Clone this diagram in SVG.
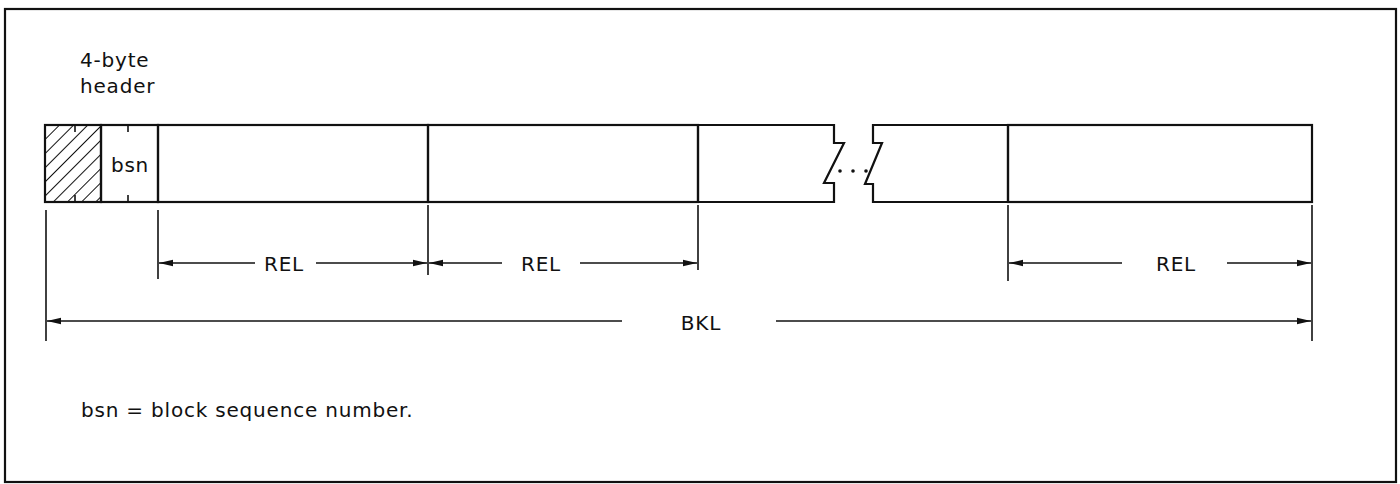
<svg xmlns="http://www.w3.org/2000/svg" width="1400" height="484" viewBox="0 0 1400 484">
<defs>
<style>
.ln{stroke:#111;stroke-width:2.2;fill:none}
.thin{stroke:#111;stroke-width:1.6;fill:none}
.t{font-family:"DejaVu Sans","Liberation Sans",sans-serif;font-size:20px;fill:#111;letter-spacing:0.8px}
.tc{text-anchor:middle}
</style>
<marker id="ah" viewBox="0 0 14 8" refX="14" refY="4" markerWidth="14" markerHeight="8" markerUnits="userSpaceOnUse" orient="auto-start-reverse">
<path d="M0,0.8 L14,4 L0,7.2 Z" fill="#111"/>
</marker>
<pattern id="hatch" patternUnits="userSpaceOnUse" width="10" height="10" patternTransform="rotate(45)">
<line x1="0" y1="0" x2="0" y2="10" stroke="#111" stroke-width="2"/>
</pattern>
</defs>
<rect x="0" y="0" width="1400" height="484" fill="#fff"/>
<rect id="frame" x="5" y="9" width="1391" height="473" class="ln"/>
<g id="header-label">
<text class="t" x="80" y="67">4-byte</text>
<text class="t" x="80" y="93">header</text>
</g>
<g id="header">
<rect x="45" y="125" width="56" height="77" fill="url(#hatch)"/>
<rect x="45" y="125" width="56" height="77" class="ln"/>
<line x1="75" y1="125" x2="75" y2="132" class="thin"/>
<line x1="75" y1="195" x2="75" y2="202" class="thin"/>
</g>
<g id="bsn">
<rect x="101" y="125" width="57" height="77" class="ln"/>
<line x1="128" y1="125" x2="128" y2="132" class="thin"/>
<line x1="128" y1="195" x2="128" y2="202" class="thin"/>
<text class="t tc" x="130" y="172">bsn</text>
</g>
<g id="record1"><rect x="158" y="125" width="270" height="77" class="ln"/></g>
<g id="record2"><rect x="428" y="125" width="270" height="77" class="ln"/></g>
<g id="record3"><path d="M698,125 H834 V143 H844 L824,183 H834 V202 H698 Z" class="ln"/></g>
<g id="gap">
<circle cx="840" cy="171" r="1.8" fill="#111"/>
<circle cx="853" cy="171" r="1.8" fill="#111"/>
<circle cx="866" cy="171" r="1.8" fill="#111"/>
</g>
<g id="record4"><path d="M1008,125 H873 V143 H882 L865,184 H873 V202 H1008 Z" class="ln"/></g>
<g id="record5"><rect x="1008" y="125" width="304" height="77" class="ln"/></g>
<g id="connectors">
<line x1="46" y1="210" x2="46" y2="341" class="thin"/>
<line x1="158" y1="210" x2="158" y2="279" class="thin"/>
<line x1="428" y1="205" x2="428" y2="275" class="thin"/>
<line x1="698" y1="205" x2="698" y2="270" class="thin"/>
<line x1="1008" y1="205" x2="1008" y2="281" class="thin"/>
<line x1="1312" y1="205" x2="1312" y2="341" class="thin"/>
<line x1="255" y1="263" x2="159" y2="263" class="thin" marker-end="url(#ah)"/>
<line x1="316" y1="263" x2="427" y2="263" class="thin" marker-end="url(#ah)"/>
<line x1="502" y1="263" x2="429" y2="263" class="thin" marker-end="url(#ah)"/>
<line x1="580" y1="263" x2="697" y2="263" class="thin" marker-end="url(#ah)"/>
<line x1="1122" y1="263" x2="1009" y2="263" class="thin" marker-end="url(#ah)"/>
<line x1="1227" y1="263" x2="1311" y2="263" class="thin" marker-end="url(#ah)"/>
<line x1="622" y1="321" x2="47" y2="321" class="thin" marker-end="url(#ah)"/>
<line x1="776" y1="321" x2="1311" y2="321" class="thin" marker-end="url(#ah)"/>
</g>
<g id="labels">
<text class="t tc" x="284" y="271">REL</text>
<text class="t tc" x="541" y="271">REL</text>
<text class="t tc" x="1176" y="271">REL</text>
<text class="t tc" x="701" y="330">BKL</text>
<text class="t" x="81" y="417">bsn = block sequence number.</text>
</g>
</svg>
